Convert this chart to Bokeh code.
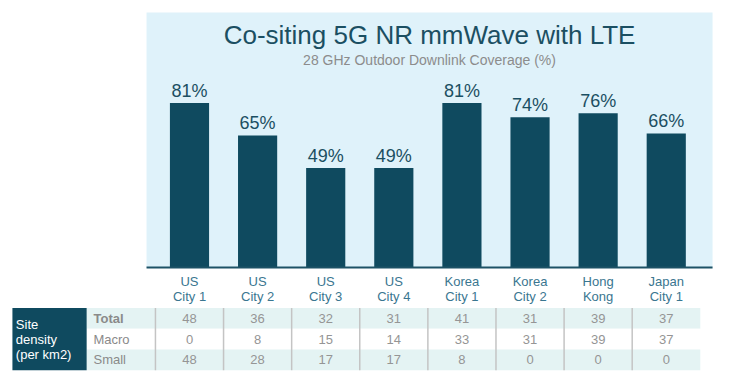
from bokeh.plotting import figure
from bokeh.models import Range1d, ColumnDataSource
from bokeh.core.properties import value
from bokeh.embed import file_html
from bokeh.resources import INLINE

# ---- data ----
categories = ["US\nCity 1", "US\nCity 2", "US\nCity 3", "US\nCity 4",
              "Korea\nCity 1", "Korea\nCity 2", "Hong\nKong", "Japan\nCity 1"]
coverage = [81, 65, 49, 49, 81, 74, 76, 66]
row_names = ["Total", "Macro", "Small"]
total = [48, 36, 32, 31, 41, 31, 39, 37]
macro = [0, 8, 15, 14, 33, 31, 39, 37]
small = [48, 28, 17, 17, 8, 0, 0, 0]
title_text = "Co-siting 5G NR mmWave with LTE"
subtitle_text = "28 GHz Outdoor Downlink Coverage (%)"
side_label = "Site\ndensity\n(per km2)"

FONT = value("Liberation Sans")
DARK = "#0f4a5f"
PANEL = "#dff2fa"

n = len(categories)
xs = list(range(n))

# frame maps: page_x = 189 + 68.1 * x ; page_y = 267 - 2.03 * y
p = figure(width=725, height=380, output_backend="svg", toolbar_location=None,
           x_range=Range1d(-2.775, 7.87), y_range=Range1d(-55.67, 131.5),
           min_border=0, min_border_left=0, min_border_right=0,
           min_border_top=0, min_border_bottom=0)
p.axis.visible = False
p.grid.visible = False
p.outline_line_color = None
p.background_fill_color = "white"
p.border_fill_color = "white"

# light-blue chart panel
panel_left, panel_right, panel_top = -0.631, 7.68, 125.6
p.quad(left=[panel_left], right=[panel_right], bottom=[0], top=[panel_top],
       fill_color=PANEL, line_color=None)

# bars
src = ColumnDataSource(dict(x=xs, y=coverage,
                            lab=[f"{v}%" for v in coverage],
                            ly=[v + 6 for v in coverage],
                            cat=categories))
p.vbar(x="x", top="y", bottom=0, width=0.575, source=src,
       fill_color=DARK, line_color=None)
p.text(x="x", y="ly", text="lab", source=src, text_font=FONT,
       text_font_size="18px", text_color="#1b4f62",
       text_align="center", text_baseline="middle")

# baseline
p.segment(x0=[panel_left], x1=[panel_right], y0=[0], y1=[0],
          line_color="#1d5266", line_width=2.2)

# title & subtitle
cx = (panel_left + panel_right) / 2
p.text(x=[cx], y=[114.6], text=[title_text], text_font=FONT,
       text_font_size="26px", text_color="#1b4f62",
       text_align="center", text_baseline="middle")
p.text(x=[cx], y=[102.3], text=[subtitle_text], text_font=FONT,
       text_font_size="14px", text_color="#8c8c8c",
       text_align="center", text_baseline="middle")

# category labels
p.text(x="x", y=-3.2, text="cat", source=src, text_font=FONT,
       text_font_size="13px", text_color="#3a7690", text_align="center",
       text_baseline="top", text_line_height=1.0)

# ---- table ----
row_h = 10.2
row_centers = [-25.1, -35.3, -45.5]
row_values = [total, macro, small]
label_left = -1.51
table_right = n - 0.5
band_colors = ["#e4f3f3", "white", "#e4f3f3"]
for rc, bc in zip(row_centers, band_colors):
    p.quad(left=[label_left], right=[table_right], bottom=[rc - row_h / 2],
           top=[rc + row_h / 2], fill_color=bc, line_color=None)

t_top = row_centers[0] + row_h / 2
t_bot = row_centers[-1] - row_h / 2

# site density box
p.quad(left=[-2.6], right=[label_left], bottom=[t_bot], top=[t_top],
       fill_color=DARK, line_color=None)
p.text(x=[-2.55], y=[(t_top + t_bot) / 2], text=[side_label], text_font=FONT,
       text_font_size="13px", text_color="white", text_align="left",
       text_baseline="middle", text_line_height=1.0)

# row labels
for name, rc in zip(row_names, row_centers):
    p.text(x=[-1.41], y=[rc], text=[name], text_font=FONT,
           text_font_size="13px", text_color="#8a8a8a",
           text_font_style="bold" if name == "Total" else "normal",
           text_align="left", text_baseline="middle")

# cell values
for vals, rc in zip(row_values, row_centers):
    p.text(x=xs, y=[rc] * n, text=[str(v) for v in vals], text_font=FONT,
           text_font_size="13px", text_color="#959595",
           text_align="center", text_baseline="middle")

# column separators
p.segment(x0=[i - 0.5 for i in xs], x1=[i - 0.5 for i in xs],
          y0=[t_top] * n, y1=[t_bot] * n, line_color="#c4c4c4", line_width=1.5)

open("out.html", "w").write(file_html(p, INLINE))
